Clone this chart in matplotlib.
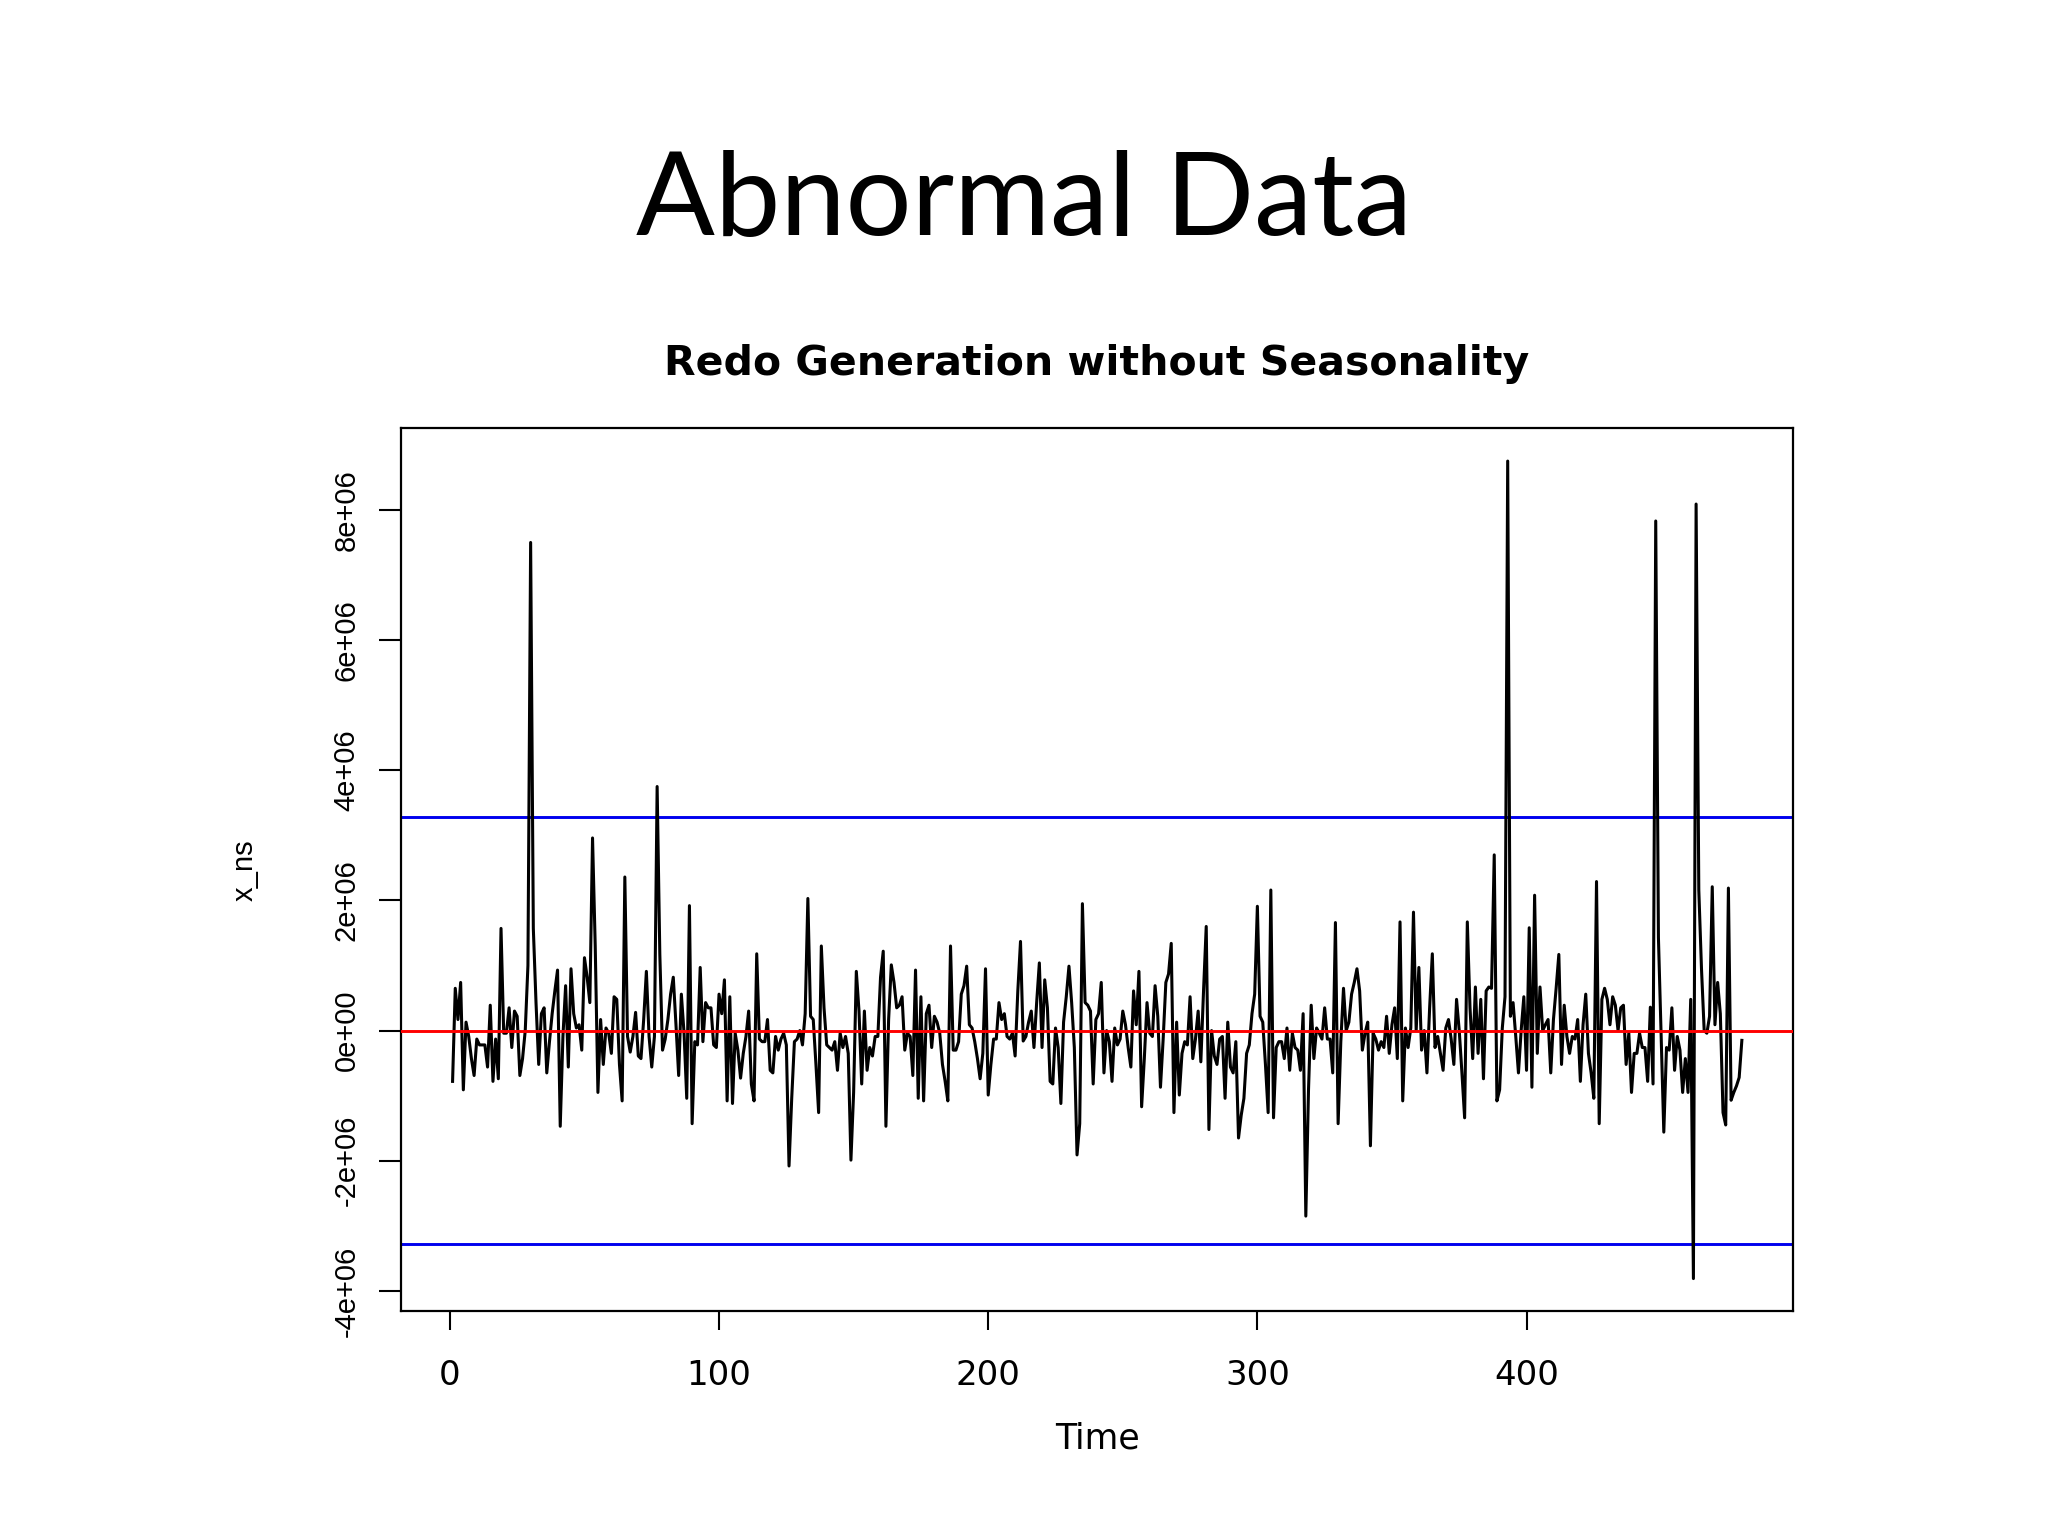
import numpy as np
import matplotlib
matplotlib.use("Agg")
import matplotlib.pyplot as plt

plt.rcParams["font.family"] = ["Liberation Sans", "DejaVu Sans"]

SLIDE_TITLE = "Abnormal Data"
CHART_TITLE = "Redo Generation without Seasonality"
X_LABEL = "Time"
Y_LABEL = "x_ns"

# series values in millions (time 1..480)
seg_001_058 = [
    -0.78, 0.65, 0.17, 0.74, -0.91, 0.13, -0.09, -0.43, -0.69, -0.13,
    -0.22, -0.22, -0.22, -0.56, 0.39, -0.78, -0.13, -0.74, 1.57, -0.04,
    -0.04, 0.35, -0.26, 0.30, 0.22, -0.69, -0.43, 0.00, 1.00, 7.50,
    1.57, 0.43, -0.52, 0.26, 0.35, -0.65, -0.17, 0.26, 0.61, 0.93,
    -1.47, -0.09, 0.69, -0.56, 0.95, 0.26, 0.04, 0.09, -0.30, 1.12,
    0.82, 0.43, 2.96, 1.30, -0.95, 0.17, -0.52, 0.04,
]
seg_059_120 = [
    -0.04, -0.35, 0.52, 0.48, -0.52, -1.08, 2.36, -0.09, -0.33, -0.09,
    0.28, -0.39, -0.43, 0.17, 0.91, -0.09, -0.56, -0.09, 3.75,
    1.17, -0.30, -0.13, 0.17, 0.56, 0.82, 0.09, -0.69, 0.56, -0.04,
    -1.04, 1.92, -1.43, -0.17, -0.22, 0.97, -0.17, 0.43, 0.35, 0.35,
    -0.22, -0.26, 0.56, 0.26, 0.78, -1.08, 0.52, -1.12, -0.04, -0.30,
    -0.73, -0.35, -0.09, 0.30, -0.82, -1.08, 1.18, -0.13, -0.17, -0.17,
    0.17, -0.61, -0.65,
]
seg_121_179 = [
    -0.09, -0.30, -0.13, -0.04, -0.22, -2.08, -1.04, -0.17, -0.13, 0.00,
    -0.22, 0.26, 2.03, 0.22, 0.17, -0.52, -1.26, 1.30, 0.35, -0.22,
    -0.26, -0.30, -0.17, -0.61, -0.04, -0.26, -0.09, -0.35, -1.99, -0.95,
    0.91, 0.30, -0.82, 0.30, -0.61, -0.26, -0.39, -0.09, -0.09, 0.82,
    1.22, -1.47, 0.17, 1.01, 0.74, 0.35, 0.39, 0.52, -0.30, -0.04,
    -0.09, -0.69, 0.93, -1.04, 0.52, -1.08, 0.26, 0.39, -0.26,
]
seg_180_239 = [
    0.22, 0.13, -0.04, -0.52, -0.78, -1.08, 1.30, -0.30, -0.30, -0.17,
    0.56, 0.69, 0.99, 0.09, 0.04, -0.17, -0.43, -0.74, -0.35, 0.95,
    -0.99, -0.52, -0.13, -0.13, 0.43, 0.17, 0.26, -0.09, -0.13, -0.04,
    -0.39, 0.61, 1.37, -0.16, -0.09, 0.13, 0.30, -0.26, 0.43, 1.04,
    -0.26, 0.78, 0.35, -0.78, -0.82, 0.04, -0.26, -1.12, 0.13, 0.52,
    0.99, 0.43, -0.26, -1.91, -1.43, 1.95, 0.43, 0.39, 0.30, -0.82,
]
seg_240_298 = [
    0.17, 0.26, 0.74, -0.65, 0.00, -0.17, -0.78, 0.04, -0.22, -0.13,
    0.30, 0.09, -0.26, -0.56, 0.61, 0.09, 0.91, -1.17, -0.43, 0.43,
    -0.04, -0.09, 0.69, 0.22, -0.87, -0.13, 0.74, 0.87, 1.34, -1.26,
    0.13, -0.99, -0.35, -0.17, -0.22, 0.52, -0.43, -0.13, 0.30, -0.48,
    0.61, 1.60, -1.52, 0.00, -0.39, -0.52, -0.13, -0.09, -1.04, 0.13,
    -0.56, -0.65, -0.17, -1.65, -1.30, -1.04, -0.35, -0.22, 0.26,
]
seg_299_358 = [
    0.56, 1.91, 0.22, 0.13, -0.52, -1.26, 2.16, -1.34, -0.26, -0.17,
    -0.17, -0.43, 0.04, -0.61, -0.04, -0.26, -0.30, -0.61, 0.26, -2.85,
    -0.91, 0.39, -0.43, 0.04, -0.04, -0.13, 0.35, -0.13, -0.13, -0.65,
    1.66, -1.43, -0.17, 0.65, 0.00, 0.13, 0.56, 0.74, 0.95, 0.61,
    -0.30, -0.04, 0.13, -1.77, -0.04, -0.13, -0.30, -0.17, -0.26, 0.22,
    -0.35, 0.09, 0.35, -0.43, 1.67, -1.08, 0.04, -0.26, 0.04, 1.82,
]
seg_359_417 = [
    0.00, 0.97, -0.30, 0.00, -0.65, 0.35, 1.18, -0.26, -0.09, -0.35,
    -0.61, 0.04, 0.17, -0.13, -0.52, 0.48, 0.00, -0.65, -1.34, 1.67,
    0.35, -0.43, 0.67, -0.35, 0.48, -0.74, 0.61, 0.67, 0.65, 2.70,
    -1.08, -0.91, 0.04, 0.52, 8.75, 0.22, 0.43, -0.09, -0.65, 0.00,
    0.52, -0.61, 1.58, -0.87, 2.08, -0.35, 0.67, 0.00, 0.09, 0.17,
    -0.65, 0.17, 0.65, 1.17, -0.52, 0.39, -0.09, -0.35, -0.09,
]
seg_418_480 = [
    -0.13, 0.17, -0.78, 0.09, 0.56, -0.35, -0.65, -1.04, 2.29, -1.43,
    0.48, 0.65, 0.48, 0.09, 0.52, 0.39, 0.00, 0.35, 0.39, -0.52,
    -0.04, -0.95, -0.35, -0.35, -0.04, -0.26, -0.26, -0.78, 0.36, -0.82,
    7.83, 1.43, -0.09, -1.56, -0.26, -0.30, 0.35, -0.61, -0.09, -0.30,
    -0.95, -0.43, -0.95, 0.48, -3.81, 8.09, 2.16, 0.95, 0.00, -0.04,
    0.22, 2.21, 0.09, 0.74, 0.26, -1.26, -1.45, 2.19, -1.07, -0.95,
    -0.85, -0.72, -0.15,
]

UPPER_LIMIT = 3.28e6
LOWER_LIMIT = -3.28e6
CENTER_LINE = 0.0

x_ticks = [0, 100, 200, 300, 400]
y_ticks = [-4e6, -2e6, 0, 2e6, 4e6, 6e6, 8e6]
y_tick_labels = ["-4e+06", "-2e+06", "0e+00", "2e+06", "4e+06", "6e+06", "8e+06"]

x_ns = np.array(seg_001_058 + seg_059_120 + seg_121_179 + seg_180_239
                + seg_240_298 + seg_299_358 + seg_359_417 + seg_418_480) * 1e6
time = np.arange(1, len(x_ns) + 1)

WIDE = ["DejaVu Sans"]  # the R plot was stretched sideways, a wider face fits the horizontal texts

fig = plt.figure(figsize=(20.48, 15.36), dpi=100)
fig.patch.set_facecolor("white")

ax = fig.add_axes([0.1958, 0.1463, 0.6799, 0.5748])
ax.plot(time, x_ns, color="black", linewidth=2.2, zorder=3)
ax.axhline(UPPER_LIMIT, color="#0000EE", linewidth=2.1, zorder=2)
ax.axhline(LOWER_LIMIT, color="#0000EE", linewidth=2.1, zorder=2)
ax.axhline(CENTER_LINE, color="#FF0000", linewidth=2.1, zorder=4)

# R style axis range: data range plus 4 % on each side
ax.margins(x=0.04, y=0.04)

ax.set_xticks(x_ticks)
ax.set_xticklabels([str(t) for t in x_ticks], family=WIDE)
ax.set_yticks(y_ticks)
ax.set_yticklabels(y_tick_labels, rotation=90, va="center")
ax.tick_params(axis="x", direction="out", length=14, width=1.5, pad=20, labelsize=24.5)
ax.tick_params(axis="y", direction="out", length=16, width=1.5, pad=13, labelsize=21)
for side in ["top", "right", "bottom", "left"]:
    ax.spines[side].set_linewidth(1.6)

ax.set_xlabel(X_LABEL, fontsize=25, va="top", family=WIDE)
ax.xaxis.set_label_coords(0.5, -0.125)
ax.set_ylabel(Y_LABEL, fontsize=21, va="center")
ax.yaxis.set_label_coords(-0.1125, 0.5)

fig.text(0.5357, 0.756, CHART_TITLE, fontsize=29.5, fontweight="bold",
         ha="center", va="baseline", family=WIDE)
fig.text(0.5, 0.847, SLIDE_TITLE, fontsize=84, ha="center", va="baseline",
         family=["Lato", "DejaVu Sans"])

fig.savefig("out.png", dpi=100, facecolor="white")
print("Saved: out.png", len(x_ns))
